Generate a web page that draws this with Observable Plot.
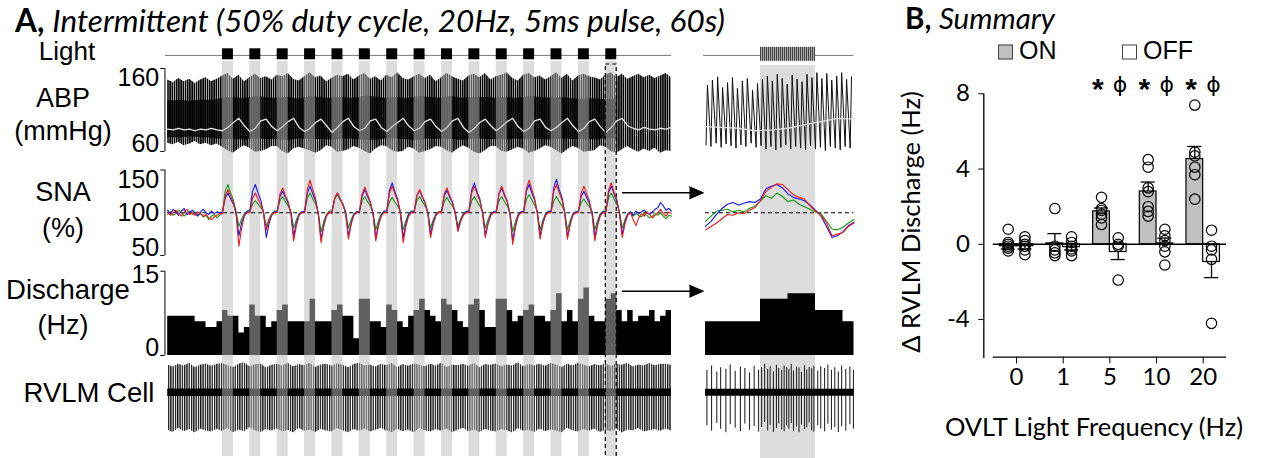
<!DOCTYPE html>
<html><head><meta charset="utf-8">
<script src="https://cdn.jsdelivr.net/npm/d3@7"></script>
<script src="https://cdn.jsdelivr.net/npm/@observablehq/plot@0.6"></script>
<style>
body{margin:0;background:#fff;}
#root{position:relative;width:1261px;height:458px;overflow:hidden;background:#fff;}
#root svg{position:absolute;left:0;top:0;}
.lbl{position:absolute;white-space:nowrap;line-height:1;color:#000;}
.arial{font-family:"Liberation Sans",Arial,sans-serif;}
.cal{font-family:Lato,"Open Sans",sans-serif;}
</style></head><body><div id="root"></div>
<script>
// ---------------- DATA ----------------
// Light stimulation: start of each ON period (s) and its length (s)
const bandStarts = [10,15,20,25,30,35,40,45,50,55,60,65,70,75,80];
const bandDur = 2;
// RVLM discharge histogram, 1-s bins (Hz)
const discharge = [7,7,7,7,7,6,6,5,5,6, 8,7,7,4,5,9,7,7,5,6, 8,9,6,6,6,6,10,6,6,6, 8,9,7,7,3,10,10,6,6,5,
  9,8,6,5,7,8,10,8,7,6, 10,9,8,6,5,9,10,8,5,5, 10,10,8,6,7,8,9,7,7,6, 8,11,6,8,6,10,12,7,6,6, 10,11,8,6,8,6,7,7,8,6,7,8];
// ABP envelope, 1-s samples (mmHg)
const abpSys = [146,143,148,144,147,142,146,149,144,147,
  151,154,147,152,144, 149,153,148,150,146, 152,150,154,147,145, 150,155,149,151,144, 148,152,150,153,146,
  151,154,147,150,145, 152,149,155,148,146, 150,153,148,152,144, 149,154,150,147,145, 151,153,149,154,146,
  150,152,155,148,145, 152,154,149,151,146, 150,155,148,153,145, 151,153,150,149,146, 152,155,149,153,147,
  150,153,149,152,148,151,154,149];
const abpDia = [70,68,71,67,69,72,68,70,67,69,
  65,61,58,63,67, 64,59,60,62,66, 66,60,57,63,65, 63,61,58,61,67, 65,59,60,62,66,
  64,60,57,63,67, 66,61,59,60,65, 63,58,60,62,66, 65,61,58,63,67, 64,59,57,61,66,
  66,60,59,62,65, 63,58,60,63,67, 65,61,57,62,66, 64,59,60,61,67, 65,60,58,62,66,
  62,59,63,60,64,58,61,60];
const abpMap = [87,86,88,86,87,85,87,86,88,86,
  85,89,95,100,91, 84,88,97,99,90, 85,90,96,100,89, 84,88,95,99,91, 83,89,96,100,90,
  85,88,97,99,89, 84,90,95,100,91, 85,88,96,99,90, 84,89,97,100,89, 83,88,95,99,91,
  85,90,96,100,90, 84,88,97,99,89, 85,89,95,100,91, 84,88,96,99,90, 83,89,97,100,91,
  88,86,89,87,86,88,87,89];
// dense core of the pressure trace, 2-s samples (mmHg)
const abpCoreLo = [77,76,78,77,76, 74,75,73,76,74,75,72,76,74,75,73,76,74,74,73,76,75,74,73,76,
  74,75,72,76,74,75,73,76,74,75,73,76,74,75,73,76,75, 76,75,77,76];
const abpCoreHi = [121,122,120,123,121, 124,126,123,127,125,124,126,122,127,125,124,126,123,128,125,
  124,126,123,127,125,124,127,123,126,125,124,126,123,127,125,124,126,123, 123,124,122,123];
// SNA (%), 0.5-s samples, three recordings
const snaBlue = [103,99,104,101,97,102,105,98,100,103,99,96,101,104,100,98,102,99,101,100,
  101,117,123,116,110,99,73,88,97,102, 103,125,133,123,115,100,71,87,97,101, 101,119,125,118,111,100,73,88,98,101,
  102,123,131,122,114,99,69,86,97,100, 101,117,123,116,110,100,73,88,98,101, 100,120,127,119,112,99,70,87,97,102,
  102,126,135,124,116,100,71,87,98,101, 101,120,126,118,112,100,75,89,98,100, 101,120,126,118,112,100,80,91,98,101,
  102,126,135,124,116,100,74,88,98,101, 101,122,129,120,113,99,67,85,97,101, 102,125,133,123,115,100,73,88,98,101,
  102,129,139,127,118,100,72,87,98,101, 101,119,125,118,111,100,71,87,98,101, 101,123,131,122,114,100,75,89,98,101,
  97,102,99,101,103,100,98,101,104,106,112,108,103,105,102];
const snaRed = [101,97,100,103,99,96,101,104,98,100,97,101,99,96,98,94,92,95,97,99,
  99,120,127,119,112,97,61,82,96,100, 100,117,123,116,110,99,80,91,98,100, 100,122,129,120,113,98,67,85,97,100,
  100,128,138,127,117,98,65,84,96,101, 99,117,123,116,110,98,69,86,97,100, 101,122,130,121,113,98,67,85,96,100,
  100,123,131,122,114,98,65,84,96,100, 100,120,127,119,112,99,71,87,97,101, 100,122,129,120,113,99,78,90,97,100,
  100,123,131,122,114,99,71,87,97,100, 100,123,131,122,114,98,63,83,96,100, 100,128,138,127,117,99,69,86,97,100,
  100,125,133,123,115,99,69,86,97,100, 100,123,131,122,114,98,67,85,96,100, 100,126,135,124,116,99,71,87,97,100,
  92,85,94,99,96,101,98,94,97,100,104,99,96,101,99];
const snaGreen = [98,101,97,99,103,100,96,99,102,98,101,97,99,95,97,92,96,98,94,97,
  100,125,133,123,115,101,84,93,99,101, 101,110,114,110,106,101,84,93,99,102, 102,114,119,113,108,101,82,92,99,101,
  101,117,123,116,110,100,78,90,98,102, 102,116,121,115,109,101,82,92,99,101, 102,114,119,113,108,100,80,91,99,101,
  101,113,118,112,108,101,80,91,99,102, 102,114,119,113,108,101,82,92,99,101, 102,113,118,112,108,101,84,93,99,102,
  101,114,119,113,108,101,82,92,99,101, 102,114,119,113,108,100,78,90,98,101, 101,116,121,115,109,101,80,91,99,102,
  101,114,119,113,108,101,80,91,99,101, 102,112,116,111,107,101,80,91,99,102, 102,117,123,116,110,101,82,92,99,101,
  96,99,97,95,99,97,94,96,99,97,100,96,93,97,96];
// RVLM unit: spike envelope, 1-s samples (mV)
const rvlmHi = [0.78,0.72,0.8,0.75,0.83,0.7,0.77,0.81,0.74,0.79, 0.82,0.76,0.7,0.8,0.84,0.73,0.78,0.81,0.69,0.77,
  0.8,0.75,0.83,0.72,0.79,0.76,0.82,0.71,0.78,0.8, 0.74,0.81,0.77,0.7,0.79,0.83,0.75,0.78,0.72,0.8,
  0.76,0.82,0.7,0.79,0.74,0.81,0.77,0.73,0.8,0.75, 0.83,0.71,0.78,0.76,0.8,0.74,0.82,0.7,0.79,0.77,
  0.81,0.73,0.78,0.75,0.84,0.72,0.79,0.76,0.8,0.74, 0.82,0.77,0.71,0.8,0.75,0.83,0.78,0.72,0.79,0.76,
  0.81,0.74,0.8,0.77,0.83,0.72,0.78,0.75,0.82,0.76, 0.79,0.8,0.77];
const rvlmLo = [-1.08,-1.14,-1.02,-1.12,-1.06,-1.16,-1.04,-1.1,-1.13,-1.05, -1.11,-1.03,-1.15,-1.07,-1.12,-1.01,-1.09,-1.14,-1.06,-1.1,
  -1.04,-1.13,-1.08,-1.16,-1.02,-1.11,-1.07,-1.14,-1.05,-1.1, -1.12,-1.03,-1.09,-1.15,-1.06,-1.11,-1.04,-1.13,-1.08,-1.02,
  -1.1,-1.14,-1.05,-1.12,-1.07,-1.16,-1.03,-1.09,-1.13,-1.06, -1.11,-1.04,-1.15,-1.08,-1.02,-1.12,-1.07,-1.14,-1.05,-1.1,
  -1.13,-1.06,-1.09,-1.16,-1.03,-1.11,-1.08,-1.14,-1.04,-1.12, -1.07,-1.1,-1.15,-1.02,-1.09,-1.13,-1.06,-1.11,-1.04,-1.14,
  -1.08,-1.12,-1.05,-1.16,-1.07,-1.1,-1.03,-1.13,-1.09,-1.06, -1.11,-1.04,-1.1];
// ---- expanded view (t = 78 .. 83.4 s) ----
const insetBeatT = [78.02,78.2,78.39,78.57,78.75,78.93,79.11,79.29,79.47,79.66,79.84,80.02,80.2,80.38,80.56,
  80.74,80.92,81.1,81.28,81.46,81.64,81.82,82.0,82.18,82.36,82.54,82.72,82.9,83.08,83.26];
const insetSys = [140,146,150,137,143,149,136,145,148,134,142,147,151,145,153,148,141,152,147,144,153,149,155,148,154,146,151,155,147,150];
const insetDia = [68,66,70,65,69,67,64,68,66,70,65,67,63,66,62,65,68,63,66,64,62,67,63,65,61,66,64,62,66,64];
const insetMapT = [78,78.6,79.2,79.8,80.4,81.0,81.6,82.2,82.8,83.4];
const insetMap = [90,89,88,85,86,88,92,96,100,99];
// 0.2-s samples from 78 s
const insetBlue = [84,90,98,105,110,112,109,111,113,112,116,128,131,133,129,122,118,116,114,109,103,96,84,71,73,78,85,89];
const insetRed = [80,84,88,93,98,97,100,99,103,106,114,125,130,134,133,127,121,118,116,108,102,97,88,73,75,77,84,88];
const insetGreen = [90,96,102,103,104,101,103,101,105,108,114,120,117,123,119,113,115,110,107,104,101,99,90,81,80,83,88,92];
const insetSpikeT = [78.05,78.22,78.41,78.55,78.74,78.9, 79.08,79.27,79.43,79.6,79.77,79.93,
  80.04,80.15,80.26,80.35,80.47,80.58,80.66,80.77,80.86,80.95, 81.03,81.12,81.2,81.31,81.4,81.49,81.6,81.68,81.77,81.86,81.94,
  82.08,82.19,82.33,82.45,82.58,82.7,82.83,82.95, 83.1,83.25,83.38];
const insetSpikeHi = [0.62,0.75,0.58,0.7,0.66,0.78,0.6,0.72,0.68,0.55,0.74,0.63, 0.7,0.8,0.65,0.73,0.59,0.77,0.68,0.62,0.75,0.7,
  0.66,0.79,0.61,0.72,0.69,0.57,0.76,0.64,0.71,0.67,0.74, 0.6,0.73,0.68,0.78,0.63,0.7,0.58,0.75, 0.66,0.72,0.62];
const insetSpikeLo = [-0.95,-1.1,-0.88,-1.05,-1.15,-0.92,-1.02,-1.12,-0.9,-1.08,-0.97,-1.13, -1.0,-0.86,-1.1,-0.94,-1.14,-1.03,-0.9,-1.07,-1.12,-0.96,
  -1.05,-0.89,-1.11,-0.99,-1.15,-0.93,-1.06,-1.01,-0.87,-1.09,-1.13, -0.95,-1.04,-1.12,-0.91,-1.07,-1.0,-1.14,-0.98, -1.1,-0.92,-1.05];
// ---- Panel B summary ----
const freqs = ["0","1","5","10","20"];
const onMean = [-0.1, 0.05, 1.75, 2.81, 4.53];
const onSem = [0.15, 0.52, 0.18, 0.5, 0.67];
const offMean = [-0.1, -0.15, -0.41, 0.05, -0.94];
const offSem = [0.15, 0.15, 0.4, 0.28, 0.83];
const on0 = [0.8, 0.1, 0.0, -0.1, -0.2, -0.35];
const off0 = [0.4, 0.2, 0.0, -0.1, -0.3, -0.55];
const on1 = [1.9, -0.1, -0.3, -0.45, -0.6];
const off1 = [0.4, 0.1, -0.1, -0.25, -0.35, -0.6];
const on5 = [2.5, 1.9, 1.8, 1.6, 1.4, 1.05];
const off5 = [0.35, 0.0, -0.1, -1.9];
const on10 = [4.5, 4.1, 3.0, 2.8, 2.0, 1.75, 1.5];
const off10 = [0.8, 0.45, 0.2, -0.1, -0.4, -1.1];
const on20 = [7.4, 4.9, 4.7, 4.1, 3.7, 2.4];
const off20 = [0.75, -0.1, -0.3, -0.8, -4.2];
const sigIdx = [2, 3, 4];

// ---------------- RENDER ----------------
const W = 1261, H = 458;
const root = document.getElementById("root");
const FA = '"Liberation Sans", Arial, sans-serif';
const FC = 'Lato, "Open Sans", sans-serif';
const NS = "http://www.w3.org/2000/svg";
function add(svg) {
  svg.style.position = "absolute"; svg.style.left = "0px"; svg.style.top = "0px";
  svg.style.background = "transparent"; svg.style.maxWidth = "none";
  root.appendChild(svg); return svg;
}
function st(extra) { return Object.assign({background: "transparent", fontFamily: FA, fontSize: "25px", overflow: "visible"}, extra || {}); }
function pattern(svg, id, w, lw, color, bg, placeholder) {
  const defs = document.createElementNS(NS, "defs");
  const p = document.createElementNS(NS, "pattern");
  p.setAttribute("id", id); p.setAttribute("patternUnits", "userSpaceOnUse");
  p.setAttribute("width", w); p.setAttribute("height", 40);
  if (bg) { const b = document.createElementNS(NS, "rect"); b.setAttribute("width", w); b.setAttribute("height", 40); b.setAttribute("fill", bg); p.appendChild(b); }
  const r = document.createElementNS(NS, "rect"); r.setAttribute("width", lw); r.setAttribute("height", 40); r.setAttribute("fill", color); p.appendChild(r);
  defs.appendChild(p); svg.insertBefore(defs, svg.firstChild);
  svg.querySelectorAll("[fill]").forEach(e => { if ((e.getAttribute("fill") || "").toLowerCase() === placeholder) e.setAttribute("fill", `url(#${id})`); });
}
const mainX = () => ({domain: [-0.5, 92], range: [164.46, 671], axis: null});
const inX = () => ({domain: [78, 83.4], range: [705, 853.5], axis: null});
const yABP = () => ({domain: [60, 160], range: [151, 68], axis: null});
const ySNA = () => ({domain: [50, 150], range: [255, 169.5], axis: null});
const yDIS = () => ({domain: [0, 15], range: [355, 270.7], axis: null});
const yRV = () => ({domain: [-1.2, 0.85], range: [434, 362], axis: null});
const frame0 = {width: W, height: H, margin: 0};

// tables
const abpPts = abpSys.map((s, i) => ({t: i, sys: s, dia: abpDia[i], map: abpMap[i]}));
const corePts = abpCoreLo.map((lo, i) => ({t: 2 * i, lo, hi: abpCoreHi[i]}));
const snaPts = snaBlue.map((b, i) => ({t: i * 0.5, b, r: snaRed[i], g: snaGreen[i]}));
const disPts = discharge.map((v, i) => ({t: i, v})).concat([{t: discharge.length, v: discharge[discharge.length - 1]}]);
const rvPts = rvlmHi.map((hi, i) => ({t: i, hi, lo: rvlmLo[i]}));
const inAbp = insetBeatT.flatMap((t, i) => [{t, v: insetDia[i]}, {t: t + 0.05, v: insetSys[i]}]);
const inMap = insetMapT.map((t, i) => ({t, v: insetMap[i]}));
const inSna = insetBlue.map((b, i) => ({t: 78 + i * 0.2, b, r: insetRed[i], g: insetGreen[i]}));
const inDis = disPts.filter(d => d.t >= 78 && d.t <= 83).concat([{t: 83.4, v: discharge[83]}]);
const inSpk = insetSpikeT.map((t, i) => ({t, hi: insetSpikeHi[i], lo: insetSpikeLo[i]}));
const lastBand = bandStarts[bandStarts.length - 1];

// bracket helper (y-axis drawn as "]")
function bracket(dom, labels) {
  return [
    Plot.ruleX([-0.5], {y1: dom[0], y2: dom[1], stroke: "#000", strokeWidth: 1}),
    Plot.ruleY(dom, {x1: -1.25, x2: -0.5, stroke: "#000", strokeWidth: 1}),
    ...labels.map(([v, a, dy]) => Plot.text([v], {x: -1.55, y: d => d, text: d => String(d), textAnchor: "end", lineAnchor: a, dy: dy || 0, fontSize: 25}))
  ];
}

// 1. inset band (background)
add(Plot.plot({width: W, height: H, marginTop: 65, marginBottom: 0, marginLeft: 0, marginRight: 0, x: inX(), style: st(),
  marks: [Plot.rect([lastBand], {x1: d => d, x2: d => d + bandDur, fill: "#dcdcdc"})]}));

// 2. main ABP
{
  const s = add(Plot.plot({...frame0, x: mainX(), y: yABP(), style: st(), marks: [
    Plot.areaY(abpPts, {x: "t", y1: "dia", y2: "sys", fill: "#010101"}),
    Plot.areaY(corePts, {x: "t", y1: "lo", y2: "hi", fill: "#000", fillOpacity: 0.8, curve: "basis"}),
    Plot.line(abpPts, {x: "t", y: "map", stroke: "#e8e8e8", strokeWidth: 1.3}),
    ...bracket([60, 160], [[160, "top"], [60, "bottom"]])
  ]}));
  pattern(s, "abpPat", 2.2, 1.65, "#000", null, "#010101");
}
// 3. main discharge
add(Plot.plot({...frame0, x: mainX(), y: yDIS(), style: st(), marks: [
  Plot.areaY(disPts, {x: "t", y: "v", curve: "step-after", fill: "#000"}),
  ...bracket([0, 15], [[15, "middle", 4], [0, "bottom"]])
]}));
// 4. main RVLM
{
  const s = add(Plot.plot({...frame0, x: mainX(), y: yRV(), style: st(), marks: [
    Plot.areaY(rvPts, {x: "t", y1: "lo", y2: "hi", fill: "#020202"}),
    Plot.ruleY([0], {x1: 0, x2: 92, stroke: "#000", strokeWidth: 7.5})
  ]}));
  pattern(s, "spkPat", 2.3, 1.35, "#151515", null, "#020202");
}
// 5. main band overlay + dashed box
add(Plot.plot({width: W, height: H, marginTop: 61, marginBottom: 2, marginLeft: 0, marginRight: 0, x: mainX(), style: st(), marks: [
  Plot.rect(bandStarts, {x1: d => d, x2: d => d + bandDur, fill: "#bbb", fillOpacity: 0.51}),
  Plot.rect([lastBand], {x1: d => d, x2: d => d + bandDur, fill: "none", stroke: "#000", strokeWidth: 1.2, strokeDasharray: "4,3", insetTop: 3, insetBottom: -20})
]}));
// 6. main SNA (on top of bands)
add(Plot.plot({...frame0, x: mainX(), y: ySNA(), style: st(), marks: [
  Plot.ruleY([100], {x1: 0, x2: 92, stroke: "#000", strokeWidth: 1, strokeDasharray: "4,3"}),
  Plot.line(snaPts, {x: "t", y: "g", stroke: "#139a13", strokeWidth: 1.1}),
  Plot.line(snaPts, {x: "t", y: "b", stroke: "#1414ee", strokeWidth: 1.1}),
  Plot.line(snaPts, {x: "t", y: "r", stroke: "#f01818", strokeWidth: 1.1}),
  ...bracket([50, 150], [[150, "top"], [100, "middle"], [50, "bottom"]])
]}));
// 7. main light row
add(Plot.plot({width: W, height: H, margin: 0, x: mainX(), y: {domain: [0, 1], range: [59.3, 48.3], axis: null}, style: st(), marks: [
  Plot.ruleY([0.4], {x1: -0.4, x2: 92, stroke: "#777", strokeWidth: 1}),
  Plot.rect(bandStarts, {x1: d => d, x2: d => d + bandDur, y1: 0, y2: 1, fill: "#000"})
]}));
// 8. inset light row
{
  const s = add(Plot.plot({width: W, height: H, margin: 0, x: inX(), y: {domain: [0, 1], range: [59.3, 48.3], axis: null}, style: st(), marks: [
    Plot.ruleY([0.4], {x1: 77.93, x2: 83.4, stroke: "#777", strokeWidth: 1}),
    Plot.rect([lastBand], {x1: d => d, x2: d => d + bandDur, y1: 0, y2: 1, fill: "#030303", insetTop: -1.5, insetBottom: -1.5})
  ]}));
  pattern(s, "stimPat", 2, 1, "#444", "#aaa", "#030303");
}
// 9. inset ABP
add(Plot.plot({...frame0, x: inX(), y: yABP(), style: st(), marks: [
  Plot.line(inAbp, {x: "t", y: "v", stroke: "#111", strokeWidth: 1}),
  Plot.line(inMap, {x: "t", y: "v", stroke: "#e0e0e0", strokeWidth: 1.3})
]}));
// 10. inset SNA
add(Plot.plot({...frame0, x: inX(), y: ySNA(), style: st(), marks: [
  Plot.ruleY([100], {x1: 78, x2: 83.4, stroke: "#000", strokeWidth: 1, strokeDasharray: "4,3"}),
  Plot.line(inSna, {x: "t", y: "g", stroke: "#139a13", strokeWidth: 1.1}),
  Plot.line(inSna, {x: "t", y: "b", stroke: "#1414ee", strokeWidth: 1.1}),
  Plot.line(inSna, {x: "t", y: "r", stroke: "#f01818", strokeWidth: 1.1})
]}));
// 11. inset discharge
add(Plot.plot({...frame0, x: inX(), y: yDIS(), style: st(), marks: [
  Plot.areaY(inDis, {x: "t", y: "v", curve: "step-after", fill: "#000"})
]}));
// 12. inset RVLM
add(Plot.plot({...frame0, x: inX(), y: yRV(), style: st(), marks: [
  Plot.ruleX(inSpk, {x: "t", y1: "lo", y2: "hi", stroke: "#2a2a2a", strokeWidth: 1.1}),
  Plot.ruleY([0], {x1: 78, x2: 83.4, stroke: "#000", strokeWidth: 7})
]}));
// 13. arrows (layout annotation, pixel units)
const arrowYs = [192.3, 290.7];
add(Plot.plot({...frame0, x: {type: "identity", axis: null}, y: {type: "identity", axis: null}, style: st(), marks: [
  Plot.ruleY(arrowYs, {x1: 622, x2: 692, stroke: "#000", strokeWidth: 1.4}),
  Plot.line(arrowYs.flatMap((y, k) => [[689, y - 6], [703, y], [689, y + 6]].map(p => ({x: p[0], y: p[1], k}))),
    {x: "x", y: "y", z: "k", fill: "#000", stroke: "#000", strokeWidth: 1})
]}));

// 14. Panel B
{
  const onP = [on0, on1, on5, on10, on20], offP = [off0, off1, off5, off10, off20];
  const BW = 0.358;
  const pts = [];
  freqs.forEach((f, i) => { onP[i].forEach(v => pts.push({i, v, c: "ON"})); offP[i].forEach(v => pts.push({i, v, c: "OFF"})); });
  const bars = freqs.flatMap((f, i) => [{i, c: "ON", m: onMean[i], s: onSem[i]}, {i, c: "OFF", m: offMean[i], s: offSem[i]}]);
  const cx = d => d.c === "ON" ? d.i - BW / 2 : d.i + BW / 2;
  const ee = d => d.m + (d.m >= 0 ? d.s : -d.s);
  add(Plot.plot({width: W, height: H, marginLeft: 983.3, marginRight: W - 1226, marginTop: 93.3, marginBottom: H - 356.7,
    x: {domain: [-0.702, 4.5], ticks: [0, 1, 2, 3, 4], tickFormat: i => freqs[i], tickSize: 6.7, tickPadding: 4, label: null},
    y: {domain: [-6, 8], ticks: [8, 4, 0, -4], tickFormat: d => String(d), tickSize: 5, tickPadding: 9, label: null},
    style: st({fontFamily: FC, fontSize: "24px"}),
    marks: [
      Plot.ruleX([-0.702], {y1: -6.07, y2: 8, stroke: "#000", strokeWidth: 1.3}),
      Plot.ruleY([-6], {x1: -0.5, x2: 4.5, stroke: "#000", strokeWidth: 1.3}),
      Plot.rect(bars.filter(d => d.c === "ON"), {x1: d => d.i - BW, x2: d => d.i, y1: 0, y2: "m", fill: "#c0c0c0", stroke: "#000", strokeWidth: 1.2}),
      Plot.rect(bars.filter(d => d.c === "OFF"), {x1: d => d.i, x2: d => d.i + BW, y1: 0, y2: "m", fill: "#fff", stroke: "#000", strokeWidth: 1.2}),
      Plot.ruleY([0], {x1: -0.5, x2: 4.5, stroke: "#000", strokeWidth: 1.5}),
      Plot.ruleX(bars, {x: cx, y1: "m", y2: ee, stroke: "#000", strokeWidth: 1.3}),
      Plot.ruleY(bars, {y: ee, x1: d => cx(d) - 0.15, x2: d => cx(d) + 0.15, stroke: "#000", strokeWidth: 1.3}),
      Plot.dot(pts, {x: cx, y: "v", r: 5.2, stroke: "#000", strokeWidth: 1.2, fill: "none"}),
      Plot.text(sigIdx, {x: i => i - BW / 2 - 0.08, y: 8.25, text: () => "*", fontSize: 30, fontWeight: "bold", fontFamily: FA}),
      Plot.text(sigIdx, {x: i => i + BW / 2 + 0.04, y: 8.45, text: () => "ϕ", fontSize: 22, fontFamily: '"DejaVu Sans", sans-serif'})
    ]}));
}

// ---------------- TEXT ----------------
function label(html, x, y, cls, size, tf) {
  const d = document.createElement("div");
  d.className = "lbl " + cls; d.style.left = x + "px"; d.style.top = y + "px"; d.style.fontSize = size + "px";
  d.style.transform = tf || "translate(-50%,-50%)";
  d.innerHTML = html; root.appendChild(d); return d;
}
label('<b style="font-style:normal">A,</b> <i>Intermittent (50% duty cycle, 20Hz, 5ms pulse, 60s)</i>', 15, 21, "cal", 31.5, "translate(0,-50%)");
label("Light", 67, 51, "arial", 26);
label("ABP", 63, 98, "arial", 27);
label("(mmHg)", 63, 131, "arial", 27);
label("SNA", 63, 192, "arial", 27);
label("(%)", 63, 228, "arial", 27);
label("Discharge", 68, 290, "arial", 27.5);
label("(Hz)", 63, 325, "arial", 27);
label("RVLM Cell", 89, 393, "arial", 27.5);
label('<b>B,</b> <i>Summary</i>', 905, 18, "cal", 29.5, "translate(0,-50%)");
label('<span style="display:inline-block;width:15px;height:15px;background:#c0c0c0;border:1px solid #444;box-sizing:border-box;vertical-align:-1px;margin-right:6px"></span>ON', 998, 50, "arial", 25, "translate(0,-50%)");
label('<span style="display:inline-block;width:15px;height:15px;background:#fff;border:1px solid #444;box-sizing:border-box;vertical-align:-1px;margin-right:6px"></span>OFF', 1122, 50, "arial", 25, "translate(0,-50%)");
label("Δ RVLM Discharge (Hz)", 911, 222, "cal", 25.5, "translate(-50%,-50%) rotate(-90deg)");
label("OVLT Light Frequency (Hz)", 1094, 427, "cal", 25.5);
</script></body></html>
